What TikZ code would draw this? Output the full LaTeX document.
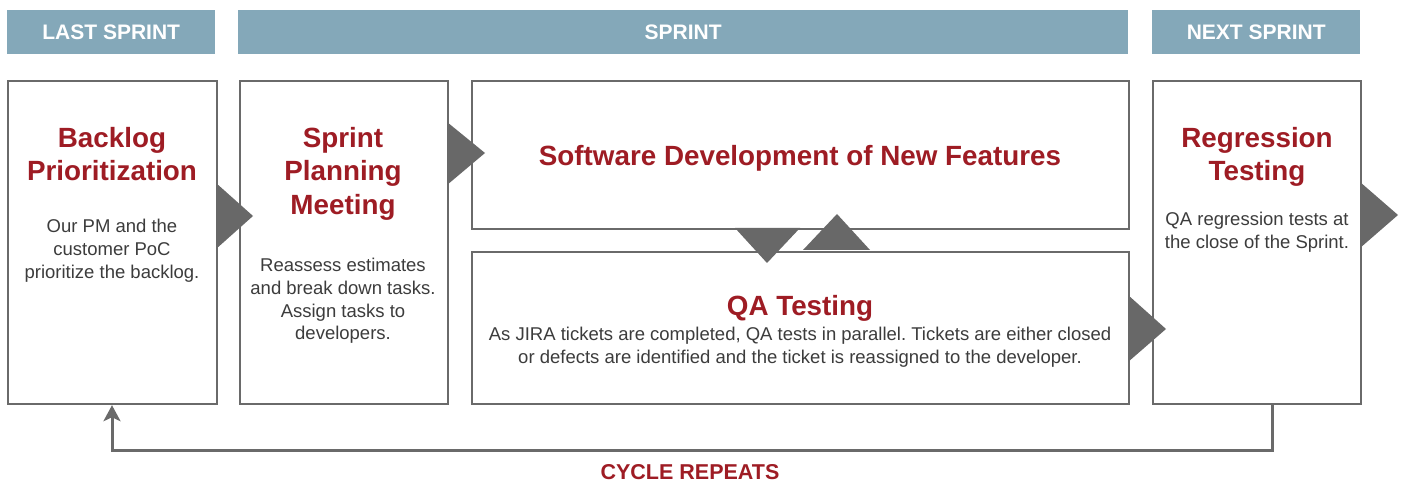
\documentclass[tikz,border=0pt]{standalone}
\usepackage{fontspec}
\setmainfont{Liberation Sans}
\usetikzlibrary{arrows.meta,calc}
\frenchspacing
\definecolor{hdr}{HTML}{84A8B9}
\definecolor{bord}{HTML}{6A6A6A}
\definecolor{tri}{HTML}{686868}
\definecolor{ttl}{HTML}{9E1C24}
\definecolor{txt}{HTML}{3C3C3C}
\tikzset{
  hdrbox/.style={fill=hdr,draw=none,anchor=north west,inner sep=0pt,text=white,
    font=\fontsize{21}{24}\selectfont\bfseries},
  stagebox/.style={draw=bord,line width=2.2pt,fill=white,anchor=north west,inner sep=0pt},
  ttltext/.style={text=ttl,align=center,font=\fontsize{27.8}{33.5}\selectfont\bfseries,inner sep=0pt},
  bodytext/.style={text=txt,align=center,font=\fontsize{18.5}{22.7}\selectfont,inner sep=0pt},
  trishape/.style={fill=tri,draw=none},
  cyc/.style={draw=bord,line width=3pt,-{Stealth[length=16pt,width=17pt,inset=4pt]}},
}
\begin{document}
\begin{tikzpicture}[x=1pt,y=-1pt]
\useasboundingbox (0,0) rectangle (1401,481);
% headers
\node[hdrbox,minimum width=208pt,minimum height=44pt] (h1) at (7,10) {LAST SPRINT};
\node[hdrbox,minimum width=890pt,minimum height=44pt] (h2) at (238,10) {SPRINT};
\node[hdrbox,minimum width=208pt,minimum height=44pt] (h3) at (1152,10) {NEXT SPRINT};
% boxes
\node[stagebox,minimum width=209pt,minimum height=323pt] (b1) at (7,80) {};
\node[stagebox,minimum width=208pt,minimum height=323pt] (b2) at (239,80) {};
\node[stagebox,minimum width=657pt,minimum height=148pt] (b3) at (471,80) {};
\node[stagebox,minimum width=657pt,minimum height=152pt] (b4) at (471,251) {};
\node[stagebox,minimum width=208pt,minimum height=323pt] (b5) at (1152,80) {};
% triangles
\fill[trishape] (216,183) -- (253,216) -- (216,249) -- cycle;
\fill[trishape] (447,122) -- (485,153) -- (447,185) -- cycle;
\fill[trishape] (735,228) -- (800,228) -- (767,263) -- cycle;
\fill[trishape] (803,250) -- (870,250) -- (837,214) -- cycle;
\fill[trishape] (1128,295) -- (1166,329) -- (1128,362) -- cycle;
\fill[trishape] (1360,182) -- (1398,215) -- (1360,248) -- cycle;
% texts
\node[ttltext,anchor=north] (t1) at (112,127) {Backlog\\Prioritization};
\node[bodytext,anchor=north] (d1) at (112,219) {Our PM and the\\customer PoC\\prioritize the backlog.};
\node[ttltext,anchor=north] (t2) at (343,127) {Sprint\\Planning\\Meeting};
\node[bodytext,anchor=north] (d2) at (343,258) {Reassess estimates\\and break down tasks.\\Assign tasks to\\developers.};
\node[ttltext,anchor=north] (t3) at (800,145) {Software Development of New Features};
\node[ttltext,anchor=north] (t4) at (800,295) {QA Testing};
\node[bodytext,anchor=north] (d4) at (800,327) {As JIRA tickets are completed, QA tests in parallel. Tickets are either closed\\or defects are identified and the ticket is reassigned to the developer.};
\node[ttltext,anchor=north] (t5) at (1257,127) {Regression\\Testing};
\node[bodytext,anchor=north] (d5) at (1257,212) {QA regression tests at\\the close of the Sprint.};
% cycle
\coordinate (cb) at (112,450);
\draw[cyc] ([xshift=15pt]b5.south) |- (cb) -- (b1.south -| cb);
\node[text=ttl,font=\fontsize{21.5}{24}\selectfont\bfseries,inner sep=0pt,anchor=base] (cr) at (690,479) {CYCLE REPEATS};
\end{tikzpicture}
\end{document}
